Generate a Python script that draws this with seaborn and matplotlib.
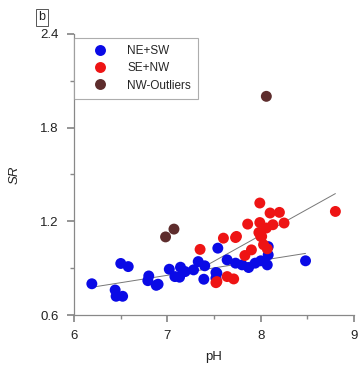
"""Scatter of SR against pH by sector group, with linear fits."""

import matplotlib

matplotlib.use("Agg")
import matplotlib.pyplot as plt
import numpy as np
import pandas as pd
import seaborn as sns
from matplotlib.ticker import MultipleLocator

# NE+SW samples
ne_sw_ph = [6.19, 6.44, 6.45, 6.52, 6.50, 6.58, 6.80, 6.79, 6.88, 6.90,
            7.02, 7.08, 7.14, 7.13, 7.19, 7.28, 7.33, 7.40, 7.39, 7.54,
            7.52, 7.52, 7.64, 7.73, 7.80, 7.87, 7.94, 8.00, 8.07, 8.08,
            7.53, 8.08, 8.48]
ne_sw_sr = [0.80, 0.76, 0.72, 0.72, 0.93, 0.91, 0.85, 0.82, 0.79, 0.797,
            0.893, 0.846, 0.906, 0.842, 0.878, 0.889, 0.942, 0.915, 0.829, 1.028,
            0.872, 0.836, 0.953, 0.932, 0.921, 0.904, 0.932, 0.947, 0.921, 1.038,
            0.868, 0.985, 0.947]

# SE+NW samples
se_nw_ph = [7.35, 7.52, 7.60, 7.73, 8.00, 7.90, 7.83, 8.07, 7.53, 7.64,
            7.71, 7.99, 8.10, 8.20, 7.86, 7.99, 8.13, 8.25, 7.74, 7.98,
            8.06, 8.01, 8.03, 8.80]
se_nw_sr = [1.02, 0.807, 1.092, 1.096, 1.103, 1.017, 0.981, 1.024, 0.814, 0.846,
            0.831, 1.317, 1.253, 1.257, 1.182, 1.192, 1.178, 1.189, 1.103, 1.128,
            1.157, 1.103, 1.05, 1.263]

# NW outliers
outlier_ph = [6.98, 7.07, 8.06]
outlier_sr = [1.10, 1.15, 2.00]

groups = ["NE+SW", "SE+NW", "NW-Outliers"]
colors = ["#0a0ae6", "#ee1414", "#5e2d2d"]

df = pd.concat(
    [
        pd.DataFrame({"pH": ne_sw_ph, "SR": ne_sw_sr, "group": groups[0]}),
        pd.DataFrame({"pH": se_nw_ph, "SR": se_nw_sr, "group": groups[1]}),
        pd.DataFrame({"pH": outlier_ph, "SR": outlier_sr, "group": groups[2]}),
    ],
    ignore_index=True,
)

sns.set_theme(style="white")
plt.rcParams["font.family"] = ["Liberation Sans", "DejaVu Sans"]

fig = plt.figure(figsize=(3.58, 3.68), dpi=100)
ax = fig.add_axes([0.207, 0.144, 0.782, 0.764])

sns.scatterplot(
    data=df, x="pH", y="SR", hue="group", hue_order=groups,
    palette=colors, s=62, linewidth=0, ax=ax, zorder=3,
)

for name in groups[:2]:
    sub = df[df["group"] == name]
    sns.regplot(
        data=sub, x="pH", y="SR", scatter=False, ci=None, truncate=True,
        color="#777777", line_kws={"linewidth": 0.7}, ax=ax,
    )

ax.set_xlim(6, 9)
ax.set_ylim(0.6, 2.4)
ax.xaxis.set_major_locator(MultipleLocator(1))
ax.xaxis.set_minor_locator(MultipleLocator(0.5))
ax.yaxis.set_major_locator(MultipleLocator(0.6))
ax.yaxis.set_minor_locator(MultipleLocator(0.3))
ax.tick_params(which="both", direction="out", color="#888888", labelsize=9.5,
               labelcolor="#222222", bottom=True, left=True)
ax.tick_params(which="major", length=5, pad=6)
ax.tick_params(which="minor", length=3)

for side in ["top", "right"]:
    ax.spines[side].set_visible(False)
for side in ["left", "bottom"]:
    ax.spines[side].set_color("#888888")
    ax.spines[side].set_linewidth(0.9)

ax.set_xlabel("pH", fontsize=9.5, color="#222222", labelpad=6)
ax.set_ylabel("SR", fontsize=9.5, color="#222222", style="italic", labelpad=14)

leg = ax.legend(
    loc="upper left", bbox_to_anchor=(0.0, 0.986), frameon=True, fancybox=False,
    fontsize=8.5, handletextpad=0.7, borderpad=0.6, labelspacing=0.45,
    markerscale=1.0, borderaxespad=0.0, handlelength=3.2,
)
leg.get_frame().set_edgecolor("#999999")
leg.get_frame().set_linewidth(0.8)

fig.text(0.117, 0.953, "b", fontsize=9, color="#222222", ha="center", va="center",
         bbox={"boxstyle": "square,pad=0.2", "facecolor": "white",
               "edgecolor": "#555555", "linewidth": 0.7})

fig.savefig("out.png", dpi=100)
plt.close(fig)
